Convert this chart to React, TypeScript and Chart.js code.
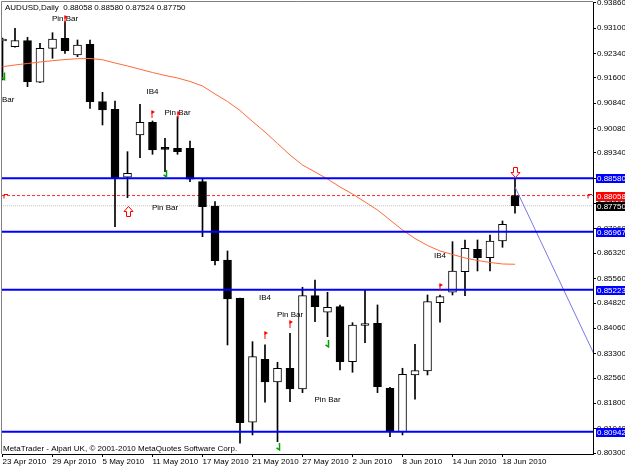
import React, { useEffect, useRef } from "react";
import { Chart, registerables } from "chart.js";

Chart.register(...registerables);

const SYMBOL = "AUDUSD,Daily";
const COPYRIGHT = "MetaTrader - Alpari UK, \u00A9 2001-2010 MetaQuotes Software Corp.";

const DATES = [
  "23 Apr 2010", "26 Apr 2010", "27 Apr 2010", "28 Apr 2010", "29 Apr 2010", "30 Apr 2010",
  "3 May 2010", "4 May 2010", "5 May 2010", "6 May 2010", "7 May 2010",
  "10 May 2010", "11 May 2010", "12 May 2010", "13 May 2010", "14 May 2010",
  "17 May 2010", "18 May 2010", "19 May 2010", "20 May 2010", "21 May 2010",
  "24 May 2010", "25 May 2010", "26 May 2010", "27 May 2010", "28 May 2010",
  "31 May 2010", "1 Jun 2010", "2 Jun 2010", "3 Jun 2010", "4 Jun 2010",
  "7 Jun 2010", "8 Jun 2010", "9 Jun 2010", "10 Jun 2010", "11 Jun 2010",
  "14 Jun 2010", "15 Jun 2010", "16 Jun 2010", "17 Jun 2010", "18 Jun 2010",
  "21 Jun 2010",
];

const OPEN = [
  0.92715, 0.92543, 0.92724, 0.91471, 0.92495, 0.92796, 0.92293, 0.92616, 0.90886, 0.90657,
  0.88608, 0.89883, 0.90265, 0.89461, 0.89482, 0.89482, 0.88476, 0.87744, 0.86117, 0.84963,
  0.81226, 0.83125, 0.82441, 0.82854, 0.8223, 0.85041, 0.84541, 0.8471, 0.83052, 0.84143,
  0.84209, 0.82251, 0.80943, 0.82652, 0.82772, 0.8483, 0.85143, 0.85764, 0.86439, 0.86186,
  0.86689, 0.88058,
];
const HIGH = [
  0.92805, 0.93098, 0.92827, 0.92646, 0.92965, 0.93297, 0.92745, 0.92745, 0.91169, 0.90907,
  0.8938, 0.90808, 0.90305, 0.89783, 0.90434, 0.89702, 0.88548, 0.87873, 0.86388, 0.8497,
  0.83655, 0.83556, 0.83034, 0.83908, 0.85294, 0.85514, 0.85143, 0.84761, 0.84227, 0.85213,
  0.84761, 0.82281, 0.82854, 0.83577, 0.85062, 0.85062, 0.86668, 0.86719, 0.86719, 0.8687,
  0.87292, 0.8858,
];
const LOW = [
  0.9154, 0.9253, 0.91338, 0.9146, 0.92194, 0.92344, 0.92242, 0.90687, 0.90184, 0.8712,
  0.87994, 0.89199, 0.89301, 0.88777, 0.89301, 0.88476, 0.86819, 0.85966, 0.83556, 0.80594,
  0.80844, 0.81829, 0.80642, 0.81847, 0.82119, 0.84258, 0.83806, 0.82802, 0.82733, 0.83625,
  0.82119, 0.80793, 0.80844, 0.8192, 0.82652, 0.8424, 0.85062, 0.85041, 0.85785, 0.85785,
  0.86499, 0.87524,
];
const CLOSE = [
  0.92775, 0.92724, 0.91489, 0.92495, 0.92775, 0.92423, 0.92595, 0.90886, 0.90636, 0.88596,
  0.88729, 0.90265, 0.89431, 0.89451, 0.8938, 0.88548, 0.87723, 0.86096, 0.84942, 0.81214,
  0.83203, 0.82441, 0.82854, 0.8223, 0.85041, 0.8471, 0.84692, 0.83052, 0.84158, 0.84203,
  0.82299, 0.80943, 0.82673, 0.82781, 0.8486, 0.85011, 0.85785, 0.86469, 0.86186, 0.86689,
  0.87192, 0.8775,
];
const MA = [
  0.91941, 0.91992, 0.92037, 0.92082, 0.92122, 0.92155, 0.92182, 0.92188, 0.92149, 0.92052,
  0.91962, 0.91862, 0.91766, 0.91676, 0.916, 0.91495, 0.91359, 0.91118, 0.90892, 0.90621,
  0.9029, 0.89973, 0.89627, 0.8928, 0.88979, 0.88768, 0.88557, 0.88316, 0.88105, 0.87864,
  0.87623, 0.87322, 0.8702, 0.86764, 0.86553, 0.86388, 0.86282, 0.86177, 0.86102, 0.86041,
  0.85996, 0.85987,
];

const LEVELS = [0.8858, 0.86967, 0.85223, 0.80942];
const BID_LINE = 0.88058;
const LAST_LINE = 0.8775;
const TREND_X = [41, 48];
const TREND_Y = [0.88316, 0.8274];

const Y_TICKS = [
  0.9386, 0.931, 0.9234, 0.916, 0.9084, 0.9008, 0.8934, 0.8858, 0.8782, 0.8706,
  0.8632, 0.8556, 0.8482, 0.8406, 0.833, 0.8256, 0.818, 0.8104, 0.803,
];
const X_TICK_STEP = 4;
const Y_MIN = 0.8027;
const Y_MAX = 0.9389;
const X_MIN = -0.04;
const X_MAX = 47.24;

const NOTE_TEXT = ["Pin Bar", "Pin Bar", "IB4", "Pin Bar", "Pin Bar", "IB4", "Pin Bar", "Pin Bar", "IB4"];
const NOTE_BAR = [5, -0.1, 12, 14, 13, 21, 23, 26, 35];
const NOTE_PRICE = [0.93378, 0.90937, 0.91178, 0.90546, 0.87692, 0.84981, 0.84459, 0.81898, 0.86237];

const RED_MARK_BAR = [5, 12, 14, 21, 23, 35];
const RED_MARK_PRICE = [0.93378, 0.90516, 0.90486, 0.83857, 0.84188, 0.85303];
const GREEN_MARK_BAR = [0, 13, 22, 26];
const GREEN_MARK_PRICE = [0.91645, 0.88708, 0.80482, 0.83586];
const BIG_UP_BAR = [10];
const BIG_UP_PRICE = [0.87593];
const BIG_DOWN_BAR = [41];
const BIG_DOWN_PRICE = [0.88777];

const TAG_VALUES = [0.8858, 0.88058, 0.8775, 0.86967, 0.85223, 0.80942];
const TAG_COLORS = ["#0000ff", "#ff0000", "#000000", "#0000ff", "#0000ff", "#0000ff"];

const FONT = "Liberation Sans";

const overlay = {
  id: "overlay",
  beforeDraw(chart: any) {
    const { ctx, width, height } = chart;
    ctx.save();
    ctx.fillStyle = "#ffffff";
    ctx.fillRect(0, 0, width, height);
    ctx.restore();
  },
  afterDatasetsDraw(chart: any) {
    const { ctx, chartArea: a, scales } = chart;
    const xs = scales.x;
    const ys = scales.y;
    ctx.save();
    ctx.beginPath();
    ctx.rect(a.left, a.top, a.right - a.left, a.bottom - a.top);
    ctx.clip();

    ctx.font = `8px "${FONT}"`;
    ctx.fillStyle = "#000";
    ctx.textAlign = "center";
    ctx.textBaseline = "middle";
    NOTE_TEXT.forEach((t, i) => {
      ctx.fillText(t, xs.getPixelForValue(NOTE_BAR[i]), ys.getPixelForValue(NOTE_PRICE[i]));
    });

    // red small up marks
    ctx.fillStyle = "#ff0000";
    ctx.strokeStyle = "#ff0000";
    ctx.lineWidth = 1;
    RED_MARK_BAR.forEach((b, i) => {
      const x = Math.round(xs.getPixelForValue(b)) + 0.5;
      const y = ys.getPixelForValue(RED_MARK_PRICE[i]);
      ctx.beginPath();
      ctx.moveTo(x - 0.5, y + 4);
      ctx.lineTo(x - 0.5, y - 3);
      ctx.stroke();
      ctx.beginPath();
      ctx.moveTo(x - 1, y - 4);
      ctx.lineTo(x + 2.5, y - 2);
      ctx.lineTo(x - 1, y);
      ctx.closePath();
      ctx.fill();
    });

    // green small marks
    ctx.strokeStyle = "#00a000";
    ctx.lineWidth = 1.5;
    GREEN_MARK_BAR.forEach((b, i) => {
      const x = Math.round(xs.getPixelForValue(b)) + 0.5;
      const y = ys.getPixelForValue(GREEN_MARK_PRICE[i]);
      ctx.beginPath();
      ctx.moveTo(x + 1, y - 4);
      ctx.lineTo(x + 1, y + 3);
      ctx.lineTo(x - 2, y + 1);
      ctx.stroke();
    });

    // big hollow arrows
    ctx.strokeStyle = "#ff0000";
    ctx.fillStyle = "#ffffff";
    ctx.lineWidth = 1;
    const arrow = (x: number, y: number, dir: number) => {
      const h = 5;
      ctx.beginPath();
      ctx.moveTo(x, y - dir * h);
      ctx.lineTo(x + 4.5, y);
      ctx.lineTo(x + 2, y);
      ctx.lineTo(x + 2, y + dir * h);
      ctx.lineTo(x - 2, y + dir * h);
      ctx.lineTo(x - 2, y);
      ctx.lineTo(x - 4.5, y);
      ctx.closePath();
      ctx.fill();
      ctx.stroke();
    };
    BIG_UP_BAR.forEach((b, i) => arrow(Math.round(xs.getPixelForValue(b)) + 0.5, Math.round(ys.getPixelForValue(BIG_UP_PRICE[i])) + 0.5, 1));
    BIG_DOWN_BAR.forEach((b, i) => arrow(Math.round(xs.getPixelForValue(b)) + 0.5, Math.round(ys.getPixelForValue(BIG_DOWN_PRICE[i])) + 0.5, -1));

    // small bid markers
    const by = Math.round(ys.getPixelForValue(BID_LINE)) + 0.5;
    ctx.strokeStyle = "#ff0000";
    ctx.beginPath();
    ctx.moveTo(a.left + 2, by + 2);
    ctx.lineTo(a.left + 2, by - 2);
    ctx.lineTo(a.left + 6, by - 2);
    ctx.moveTo(a.right - 5, by + 2);
    ctx.lineTo(a.right - 5, by - 2);
    ctx.lineTo(a.right - 1, by - 2);
    ctx.stroke();
    ctx.restore();

    // frame
    ctx.save();
    ctx.strokeStyle = "#808080";
    ctx.lineWidth = 1;
    ctx.beginPath();
    ctx.moveTo(a.left - 0.5, a.bottom);
    ctx.lineTo(a.left - 0.5, a.top - 0.5);
    ctx.lineTo(a.right, a.top - 0.5);
    ctx.stroke();
    ctx.restore();
  },
  afterDraw(chart: any) {
    const { ctx, chartArea: a, scales } = chart;
    const ys = scales.y;
    const n = OPEN.length - 1;
    ctx.save();
    ctx.font = `8px "${FONT}"`;
    ctx.textBaseline = "middle";
    ctx.textAlign = "left";
    ctx.fillStyle = "#000";
    ctx.fillText(
      `${SYMBOL}  ${OPEN[n].toFixed(5)} ${HIGH[n].toFixed(5)} ${LOW[n].toFixed(5)} ${CLOSE[n].toFixed(5)}`,
      a.left + 3,
      a.top + 6
    );
    ctx.fillText(COPYRIGHT, a.left + 1, a.bottom - 5);

    TAG_VALUES.forEach((v, i) => {
      const y = Math.round(ys.getPixelForValue(v));
      ctx.fillStyle = TAG_COLORS[i];
      ctx.fillRect(a.right + 3, y - 4, 32, 9);
      ctx.fillStyle = "#ffffff";
      ctx.fillText(v.toFixed(5), a.right + 4, y + 0.5);
    });
    ctx.restore();
  },
};

export default function App() {
  const ref = useRef<HTMLCanvasElement>(null);
  useEffect(() => {
    document.body.style.margin = "0";
    const idx = OPEN.map((_, i) => i);
    const bodyColors = idx.map((i) => (CLOSE[i] >= OPEN[i] ? "#ffffff" : "#000000"));
    const hline = (v: number) => [
      { x: X_MIN - 2, y: v },
      { x: X_MAX + 2, y: v },
    ];
    const chart = new Chart(ref.current as HTMLCanvasElement, {
      type: "bar",
      data: {
        datasets: [
          {
            type: "line",
            data: hline(BID_LINE),
            borderColor: "#ff3030",
            borderWidth: 1,
            borderDash: [3, 2],
            pointRadius: 0,
            order: 10,
          } as any,
          {
            type: "line",
            data: hline(LAST_LINE),
            borderColor: "#c4c4c4",
            borderWidth: 1,
            borderDash: [1, 1],
            pointRadius: 0,
            order: 9,
          } as any,
          {
            type: "bar",
            data: idx.map((i) => ({ x: i, y: [LOW[i], HIGH[i]] })),
            backgroundColor: "#000000",
            borderWidth: 0,
            barThickness: 1,
            grouped: false,
            order: 6,
          } as any,
          {
            type: "bar",
            data: idx.map((i) => ({ x: i, y: [OPEN[i], CLOSE[i]] })),
            backgroundColor: bodyColors,
            borderColor: "#000000",
            borderWidth: 1,
            borderSkipped: false,
            barThickness: 8,
            minBarLength: 2,
            grouped: false,
            order: 5,
          } as any,
          {
            type: "line",
            data: idx.map((i) => ({ x: i, y: MA[i] })),
            borderColor: "#ff6a3a",
            borderWidth: 1,
            pointRadius: 0,
            tension: 0,
            order: 4,
          } as any,
          {
            type: "line",
            data: TREND_X.map((x, i) => ({ x, y: TREND_Y[i] })),
            borderColor: "#7878e8",
            borderWidth: 1,
            pointRadius: 0,
            order: 3,
          } as any,
          ...LEVELS.map(
            (v) =>
              ({
                type: "line",
                data: hline(v),
                borderColor: "#0000ff",
                borderWidth: 2,
                pointRadius: 0,
                order: 1,
              } as any)
          ),
        ],
      },
      options: {
        responsive: false,
        animation: false,
        devicePixelRatio: 1,
        events: [],
        layout: { padding: { left: 2, top: 2, right: 0, bottom: 0 } },
        plugins: { legend: { display: false }, tooltip: { enabled: false } },
        scales: {
          x: {
            type: "linear",
            position: "bottom",
            min: X_MIN,
            max: X_MAX,
            offset: false,
            afterBuildTicks: (s: any) => {
              s.ticks = idx.filter((i) => i % X_TICK_STEP === 0).map((v) => ({ value: v }));
            },
            afterFit: (s: any) => {
              s.height = 15;
              s.paddingLeft = 0;
              s.paddingRight = 0;
            },
            ticks: {
              autoSkip: false,
              maxRotation: 0,
              minRotation: 0,
              align: "start",
              padding: 0,
              color: "#000",
              font: { family: FONT, size: 8 },
              callback: (v: any) => DATES[Number(v)] ?? "",
            },
            grid: { drawOnChartArea: false, offset: false, tickLength: 3, color: "#000" },
            border: { display: true, color: "#000" },
          },
          y: {
            type: "linear",
            position: "right",
            min: Y_MIN,
            max: Y_MAX,
            afterBuildTicks: (s: any) => {
              s.ticks = Y_TICKS.map((v) => ({ value: v }));
            },
            afterFit: (s: any) => {
              s.width = 32;
              s.paddingTop = 0;
              s.paddingBottom = 0;
            },
            ticks: {
              padding: 1,
              color: "#000",
              font: { family: FONT, size: 8 },
              callback: (v: any) => Number(v).toFixed(5),
            },
            grid: { drawOnChartArea: false, tickLength: 3, color: "#000" },
            border: { display: true, color: "#000" },
          },
        },
      } as any,
      plugins: [overlay],
    });
    return () => chart.destroy();
  }, []);
  return (
    <canvas
      ref={ref}
      width={625}
      height={469}
      style={{ display: "block", width: 625, height: 469 }}
    />
  );
}
